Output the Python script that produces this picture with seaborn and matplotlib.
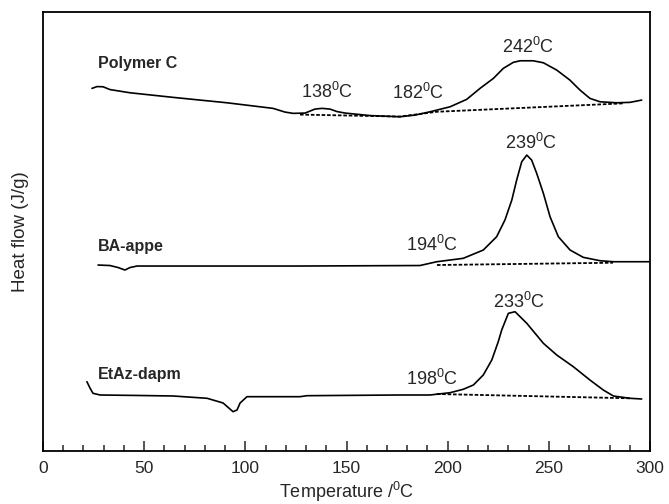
import matplotlib
matplotlib.use("Agg")
import matplotlib.pyplot as plt
import seaborn as sns
import pandas as pd
from matplotlib.ticker import MultipleLocator

# DSC traces (temperature in degC, heat flow in arbitrary offset units)
polyc_T = [24.2, 26.7, 29.7, 33.1, 43.0, 64.3, 90.9, 113.7, 119.6, 123.6, 129.5, 132.0, 134.4,
           137.9, 141.8, 145.3, 149.3, 161.6, 176.4, 183.9, 191.3, 201.2, 209.4, 216.0, 222.6,
           227.5, 232.4, 235.8, 242.3, 247.3, 253.9, 260.4, 265.4, 270.3, 275.3, 283.5, 290.1, 295.9]
polyc_hf = [362.7, 364.5, 364.3, 361.5, 358.3, 353.7, 348.3, 342.7, 339.0, 337.7, 338.0, 340.0, 342.0,
            342.7, 342.0, 339.5, 338.0, 335.5, 334.3, 336.0, 339.3, 344.3, 351.7, 362.7, 372.7,
            382.7, 388.7, 390.3, 390.3, 388.3, 381.0, 371.0, 361.0, 352.7, 349.3, 348.3, 348.7, 351.0]
polyc_base_T = [127.0, 176.4, 194.6, 286.7]
polyc_base_hf = [336.5, 334.5, 339.3, 347.7]

ba_T = [27.2, 33.1, 37.1, 40.5, 43.0, 46.5, 127.0, 186.3, 194.6, 207.7, 217.6, 224.2, 228.3,
        231.7, 234.1, 236.6, 239.1, 241.5, 244.0, 247.3, 250.6, 254.7, 260.5, 267.0, 275.3,
        281.9, 300.0]
ba_hf = [186.0, 185.5, 183.5, 181.0, 183.5, 185.0, 185.0, 185.5, 189.3, 192.7, 201.0, 214.3, 231.0,
         251.0, 271.0, 289.3, 296.0, 291.0, 277.7, 257.7, 234.3, 214.3, 201.0, 193.7, 190.3,
         189.3, 189.3]
ba_base_T = [194.7, 281.7]
ba_base_hf = [186.0, 188.3]

etaz_T = [21.7, 23.2, 24.7, 28.2, 47.9, 64.3, 81.1, 89.0, 93.9, 95.9, 97.4, 100.8, 127.0, 130.5,
          176.4, 191.3, 201.2, 207.7, 212.7, 217.6, 221.8, 225.0, 226.7, 230.0, 233.3, 239.1,
          247.3, 253.9, 262.1, 270.3, 276.9, 281.9, 290.1, 295.9]
etaz_hf = [69.3, 63.0, 57.7, 56.0, 55.5, 55.0, 52.7, 48.0, 39.3, 41.0, 48.0, 54.3, 54.3, 55.3,
           56.0, 56.0, 58.3, 61.7, 66.0, 76.0, 91.0, 109.3, 121.0, 137.7, 139.3, 127.7,
           107.7, 96.0, 84.3, 71.0, 61.0, 55.0, 52.7, 52.0]
etaz_base_T = [194.6, 290.1]
etaz_base_hf = [57.0, 52.7]

sample_names = ["Polymer C", "BA-appe", "EtAz-dapm"]
sample_label_T = [27.2, 27.2, 27.2]
sample_label_hf = [388, 205, 76]

peak_temps = [138, 182, 242, 239, 194, 233, 198]
peak_label_T = [140.4, 185.3, 239.7, 241.2, 192.3, 235.3, 192.3]
peak_label_hf = [359, 358, 404, 308, 206, 149, 72]

sns.set_style("ticks")
plt.rcParams['font.family'] = ['Liberation Sans', 'DejaVu Sans']
plt.rcParams['mathtext.fontset'] = 'custom'
plt.rcParams['mathtext.rm'] = 'Liberation Sans'

fig = plt.figure(figsize=(6.69, 5.04), dpi=100)
ax = fig.add_axes([0.0643, 0.1052, 0.9073, 0.8708])

curves = [(polyc_T, polyc_hf), (ba_T, ba_hf), (etaz_T, etaz_hf)]
bases = [(polyc_base_T, polyc_base_hf), (ba_base_T, ba_base_hf), (etaz_base_T, etaz_base_hf)]

for t, hf in curves:
    df = pd.DataFrame({"T": t, "hf": hf})
    sns.lineplot(data=df, x="T", y="hf", color="black", linewidth=1.2, estimator=None, ax=ax)
for t, hf in bases:
    df = pd.DataFrame({"T": t, "hf": hf})
    sns.lineplot(data=df, x="T", y="hf", color="black", linewidth=1.3,
                 linestyle=(0, (2, 1)), estimator=None, ax=ax)

for name, x, y in zip(sample_names, sample_label_T, sample_label_hf):
    ax.text(x, y, name, fontsize=11.5, fontweight="bold", ha="left", va="center")
for temp, x, y in zip(peak_temps, peak_label_T, peak_label_hf):
    ax.text(x, y, f"{temp}" + r"$\mathregular{^0}$C", fontsize=13, ha="center", va="center")

ax.set_xlim(0, 300)
ax.set_ylim(0, 439)
ax.xaxis.set_major_locator(MultipleLocator(50))
ax.xaxis.set_minor_locator(MultipleLocator(10))
ax.tick_params(axis="x", which="major", direction="in", length=7, width=1.1, labelsize=12.5, pad=7)
ax.tick_params(axis="x", which="minor", direction="in", length=4, width=1.1)
ax.set_yticks([])
for s in ax.spines.values():
    s.set_visible(True)
    s.set_linewidth(1.3)
    s.set_color("black")

ax.set_xlabel(r"Temperature /$\mathregular{^0}$C", fontsize=13, labelpad=3)
ax.set_ylabel("Heat flow (J/g)", fontsize=13.5, labelpad=10)

fig.savefig("out.png", dpi=100)
